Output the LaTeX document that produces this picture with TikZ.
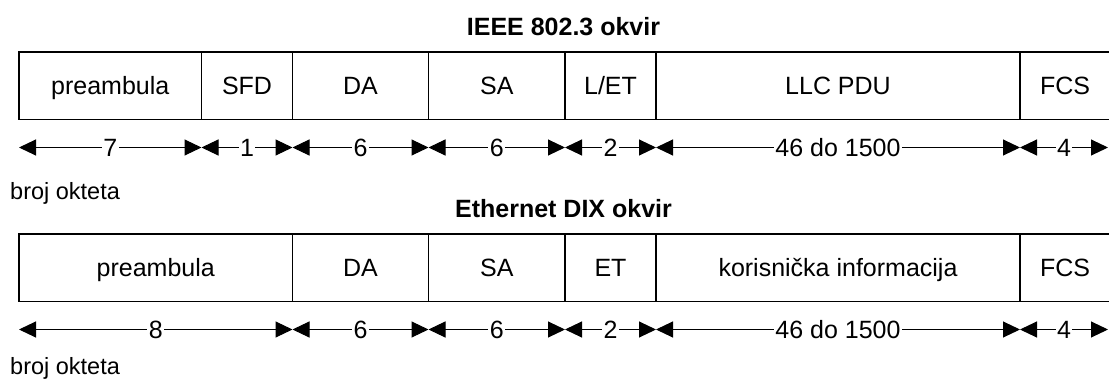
\documentclass[tikz,border=0pt]{standalone}
\usepackage{fontspec}
\setmainfont{Liberation Sans}
\usetikzlibrary{arrows.meta}
\begin{document}
\begin{tikzpicture}[x=1pt,y=-1pt,
 field/.style={draw, line width=1.8pt, inner sep=0pt, outer sep=0pt, minimum height=67.5pt,
   text height=17.9pt, text depth=0pt, anchor=west, font=\fontsize{25}{30}\selectfont},
 dim/.style={line width=1pt, {Triangle[length=17pt,width=16pt]}-{Triangle[length=17pt,width=16pt]}},
 dimlab/.style={fill=white, inner xsep=1.5pt, inner ysep=0pt, font=\fontsize{25}{30}\selectfont},
 ttl/.style={font=\fontsize{25}{30}\selectfont\bfseries, anchor=base, inner sep=0pt},
 note/.style={font=\fontsize{23.5}{28}\selectfont, anchor=base west, inner sep=0pt}]
\useasboundingbox (0,0) rectangle (1109,380);
% IEEE 802.3 frame
\node[ttl] (t1) at (563.5,35) {IEEE 802.3 okvir};
\node[field, minimum width=182.5pt] (a1) at (19,85.75) {preambula};
\node[field, minimum width=91pt] (a2) at (a1.east) {SFD};
\node[field, minimum width=136pt] (a3) at (a2.east) {DA};
\node[field, minimum width=136.5pt] (a4) at (a3.east) {SA};
\node[field, minimum width=91pt] (a5) at (a4.east) {L/ET};
\node[field, minimum width=364pt] (a6) at (a5.east) {LLC PDU};
\node[field, minimum width=90pt] (a7) at (a6.east) {FCS};
\coordinate (ra) at (0,147.5);
\draw[dim] (a1.west |- ra) -- node[dimlab]{7} (a1.east |- ra);
\draw[dim] (a2.west |- ra) -- node[dimlab]{1} (a2.east |- ra);
\draw[dim] (a3.west |- ra) -- node[dimlab]{6} (a3.east |- ra);
\draw[dim] (a4.west |- ra) -- node[dimlab]{6} (a4.east |- ra);
\draw[dim] (a5.west |- ra) -- node[dimlab]{2} (a5.east |- ra);
\draw[dim] (a6.west |- ra) -- node[dimlab]{46 do 1500} (a6.east |- ra);
\draw[dim, shorten >=2pt] (a7.west |- ra) -- node[dimlab, xshift=-1pt]{4} (a7.east |- ra);
\node[note] (n1) at (10,199.3) {broj okteta};
% Ethernet DIX frame
\node[ttl] (t2) at (563.5,217) {Ethernet DIX okvir};
\node[field, minimum width=273.5pt] (b1) at (19,267.75) {preambula};
\node[field, minimum width=136pt] (b2) at (b1.east) {DA};
\node[field, minimum width=136.5pt] (b3) at (b2.east) {SA};
\node[field, minimum width=91pt] (b4) at (b3.east) {ET};
\node[field, minimum width=364pt] (b5) at (b4.east) {korisnička informacija};
\node[field, minimum width=90pt] (b6) at (b5.east) {FCS};
\coordinate (rb) at (0,329.5);
\draw[dim] (b1.west |- rb) -- node[dimlab]{8} (b1.east |- rb);
\draw[dim] (b2.west |- rb) -- node[dimlab]{6} (b2.east |- rb);
\draw[dim] (b3.west |- rb) -- node[dimlab]{6} (b3.east |- rb);
\draw[dim] (b4.west |- rb) -- node[dimlab]{2} (b4.east |- rb);
\draw[dim] (b5.west |- rb) -- node[dimlab]{46 do 1500} (b5.east |- rb);
\draw[dim, shorten >=2pt] (b6.west |- rb) -- node[dimlab, xshift=-1pt]{4} (b6.east |- rb);
\node[note] (n2) at (10,374.5) {broj okteta};
\end{tikzpicture}
\end{document}
